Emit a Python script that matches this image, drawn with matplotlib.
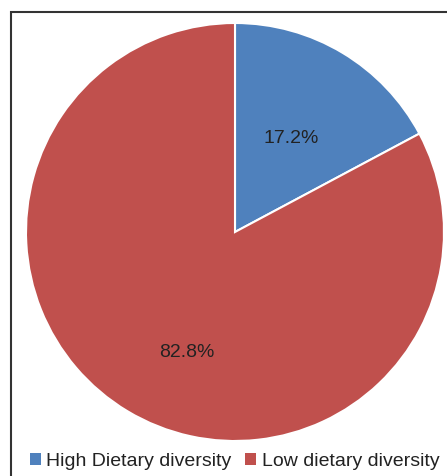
import numpy as np
import matplotlib.pyplot as plt
from matplotlib.patches import Rectangle, Patch

plt.rcParams['font.family'] = ['Liberation Sans', 'DejaVu Sans']

labels = ["High Dietary diversity", "Low dietary diversity"]
values = [17.2, 82.8]
colors = ['#4F81BD', '#C0504D']

fig = plt.figure(figsize=(4.47, 4.76), dpi=100)

# outer frame, clipped at the right and bottom edges like the source
fig.patches.append(Rectangle((11 / 447, -0.1), 1.2, 1 - 12 / 476 + 0.1,
                             transform=fig.transFigure, fill=False,
                             edgecolor='#333333', linewidth=1.5))

ax = fig.add_axes([26 / 447, 35 / 476, 418 / 447, 418 / 476])
wedges, texts, autotexts = ax.pie(values, colors=colors, startangle=90,
                                  counterclock=False, autopct='%.1f%%',
                                  pctdistance=0.52,
                                  wedgeprops=dict(edgecolor='white', linewidth=1.5),
                                  textprops=dict(fontsize=14, color='#222222'))
# red label sits a bit off the wedge middle in the original
ang = np.deg2rad(-112)
autotexts[1].set_position((0.62 * np.cos(ang), 0.62 * np.sin(ang)))
ax.set_xlim(-1, 1)
ax.set_ylim(-1, 1)

handles = [Patch(facecolor=c, edgecolor='none') for c in colors]
fig.legend(handles, labels, loc='center', bbox_to_anchor=(0.525, 0.03),
           ncol=2, frameon=False, fontsize=14, handlelength=0.55,
           handleheight=0.55, handletextpad=0.3, columnspacing=0.7,
           labelcolor='#222222')

fig.savefig('out.png', dpi=100)
